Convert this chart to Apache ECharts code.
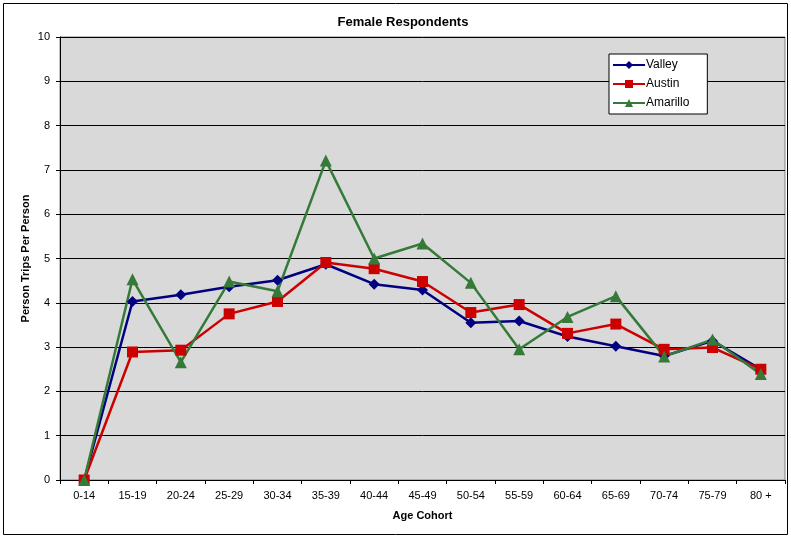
<!DOCTYPE html>
<html>
<head>
<meta charset="utf-8">
<script src="https://cdn.jsdelivr.net/npm/echarts@6/dist/echarts.min.js"></script>
<style>
  html, body { margin: 0; padding: 0; background: #fff; }
  #chart { width: 791px; height: 538px; }
</style>
</head>
<body>
<div id="chart"></div>
<script>
var ageCohorts = ['0-14', '15-19', '20-24', '25-29', '30-34', '35-39', '40-44', '45-49',
    '50-54', '55-59', '60-64', '65-69', '70-74', '75-79', '80 +'];
var valley = [0, 4.03, 4.18, 4.36, 4.51, 4.87, 4.42, 4.29, 3.55, 3.59, 3.24, 3.02, 2.80, 3.14, 2.50];
var austin = [0, 2.89, 2.93, 3.75, 4.03, 4.91, 4.77, 4.48, 3.78, 3.96, 3.31, 3.52, 2.95, 2.99, 2.50];
var amarillo = [0, 4.53, 2.66, 4.48, 4.26, 7.21, 5.00, 5.34, 4.45, 2.95, 3.68, 4.15, 2.79, 3.17, 2.39];

var chart = echarts.init(document.getElementById('chart'));

var font = 'Liberation Sans, Arial, sans-serif';

var option = {
    backgroundColor: '#fff',
    animation: false,
    title: {
        text: 'Female Respondents',
        left: 398,
        textAlign: 'center',
        top: 11,
        textStyle: { fontFamily: font, fontSize: 13, fontWeight: 'bold', color: '#000' }
    },
    legend: {
        orient: 'vertical',
        left: 609,
        top: 54,
        padding: [5, 18, 5, 3],
        backgroundColor: '#fff',
        borderColor: '#000',
        borderWidth: 1,
        borderRadius: 0,
        itemWidth: 32,
        itemHeight: 10,
        itemGap: 7,
        textStyle: { fontFamily: font, fontSize: 12, color: '#000', padding: [0, 0, 0, -4] },
        data: ['Valley', 'Austin', 'Amarillo']
    },
    graphic: [{
        type: 'rect',
        shape: { x: 3.5, y: 3.5, width: 784, height: 531 },
        style: { fill: 'none', stroke: '#000', lineWidth: 1 },
        silent: true
    }],
    grid: {
        left: 60,
        right: 6,
        top: 37,
        bottom: 58,
        show: true,
        backgroundColor: '#d9d9d9',
        borderColor: '#808080',
        borderWidth: 1
    },
    xAxis: {
        type: 'category',
        data: ageCohorts,
        boundaryGap: true,
        name: 'Age Cohort',
        nameLocation: 'middle',
        nameGap: 30,
        nameTextStyle: { fontFamily: font, fontSize: 11, fontWeight: 'bold', color: '#000' },
        axisLine: { lineStyle: { color: '#000', width: 1 } },
        axisTick: { show: true, length: 4, inside: false, lineStyle: { color: '#000' } },
        axisLabel: { fontFamily: font, fontSize: 11, color: '#000', margin: 10, interval: 0 }
    },
    yAxis: {
        type: 'value',
        min: 0,
        max: 10,
        interval: 1,
        name: 'Person Trips Per Person',
        nameLocation: 'middle',
        nameGap: 29,
        nameMoveOverlap: false,
        nameTextStyle: { fontFamily: font, fontSize: 11, fontWeight: 'bold', color: '#000' },
        axisLine: { show: true, lineStyle: { color: '#000', width: 1 } },
        axisTick: { show: true, length: 4, lineStyle: { color: '#000' } },
        axisLabel: { fontFamily: font, fontSize: 11, color: '#000', margin: 10 },
        splitLine: { show: true, lineStyle: { color: '#000', width: 1 } }
    },
    series: [
        {
            name: 'Valley',
            type: 'line',
            data: valley,
            symbol: 'diamond',
            symbolSize: 11,
            lineStyle: { color: '#000080', width: 2.5 },
            itemStyle: { color: '#000080' }
        },
        {
            name: 'Austin',
            type: 'line',
            data: austin,
            symbol: 'rect',
            symbolSize: 11,
            lineStyle: { color: '#cc0000', width: 2.5 },
            itemStyle: { color: '#cc0000' }
        },
        {
            name: 'Amarillo',
            type: 'line',
            data: amarillo,
            symbol: 'triangle',
            symbolSize: 12,
            lineStyle: { color: '#357a38', width: 2.5 },
            itemStyle: { color: '#357a38' }
        }
    ]
};

chart.setOption(option);
</script>
</body>
</html>
